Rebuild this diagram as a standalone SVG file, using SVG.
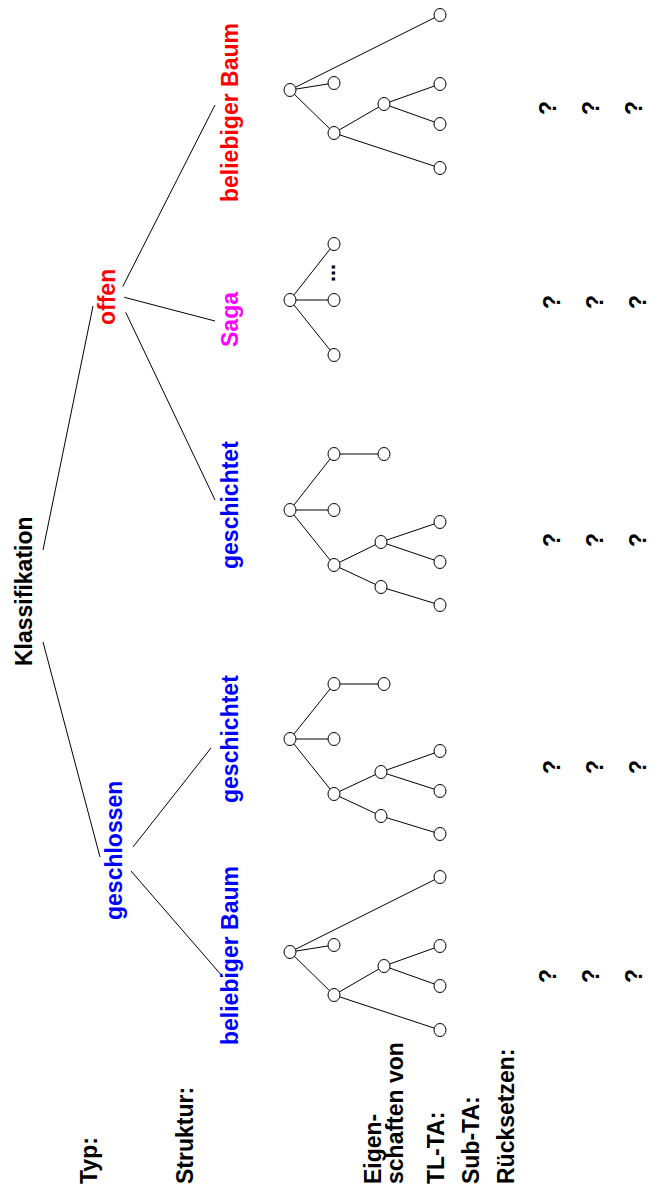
<svg xmlns="http://www.w3.org/2000/svg" width="661" height="1190" viewBox="0 0 661 1190">
  <style>
    text { font-family: "Liberation Sans", Arial, Helvetica, sans-serif; font-weight: bold; font-size: 23px; }
    .blk { fill: #000000; }
    .blue { fill: #0000ff; }
    .red { fill: #ff0000; }
    .mag { fill: #ff00ff; }
    .q { text-anchor: middle; }
    .edge { stroke: #000000; stroke-width: 1; fill: none; }
    .node { stroke: #000000; stroke-width: 1; fill: #ffffff; }
  </style>

  <!-- classification hierarchy: connectors -->
  <g id="connectors" class="edge">
    <line x1="43" y1="550" x2="93" y2="306"/>
    <line x1="43" y1="642" x2="100" y2="857"/>
    <line x1="122.7" y1="286.7" x2="215" y2="105"/>
    <line x1="124.3" y1="297.3" x2="215" y2="321"/>
    <line x1="125.7" y1="312.3" x2="215" y2="500"/>
    <line x1="133" y1="847" x2="211" y2="748"/>
    <line x1="131" y1="871" x2="223" y2="977"/>
  </g>

  <!-- hierarchy labels (vertical text) -->
  <g id="klassifikation"><text class="blk" transform="translate(32,666) rotate(-90)">Klassifikation</text></g>
  <g id="geschlossen"><text class="blue" transform="translate(122,920) rotate(-90)">geschlossen</text></g>
  <g id="offen"><text class="red" transform="translate(115,325) rotate(-90)">offen</text></g>
  <g id="beliebig-geschlossen"><text class="blue" transform="translate(238,1045) rotate(-90)">beliebiger Baum</text></g>
  <g id="geschichtet-geschlossen"><text class="blue" transform="translate(238,803) rotate(-90)">geschichtet</text></g>
  <g id="geschichtet-offen"><text class="blue" transform="translate(238,569) rotate(-90)">geschichtet</text></g>
  <g id="saga"><text class="mag" transform="translate(238,347) rotate(-90)">Saga</text></g>
  <g id="beliebig-offen"><text class="red" transform="translate(238,202) rotate(-90)">beliebiger Baum</text></g>

  <!-- row headings -->
  <g id="row-labels" class="blk">
    <text transform="translate(97,1184) rotate(-90)">Typ:</text>
    <text transform="translate(193,1184) rotate(-90)">Struktur:</text>
    <text transform="translate(381,1184) rotate(-90)">Eigen-</text>
    <text transform="translate(403,1184) rotate(-90)">schaften von</text>
    <text transform="translate(444,1184) rotate(-90)">TL-TA:</text>
    <text transform="translate(479,1184) rotate(-90)">Sub-TA:</text>
    <text transform="translate(514,1184) rotate(-90)">Rücksetzen:</text>
  </g>

  <!-- structure trees -->
  <g id="tree-beliebig-geschlossen">
    <g class="edge">
      <line x1="290" y1="952" x2="440" y2="877"/>
      <line x1="290" y1="952" x2="334" y2="945"/>
      <line x1="290" y1="952" x2="334" y2="995"/>
      <line x1="334" y1="995" x2="384" y2="966"/>
      <line x1="384" y1="966" x2="440" y2="946"/>
      <line x1="384" y1="966" x2="440" y2="986"/>
      <line x1="334" y1="995" x2="440" y2="1030"/>
    </g>
    <g class="node">
      <ellipse cx="290" cy="952" rx="6" ry="6.5"/>
      <ellipse cx="334" cy="945" rx="6" ry="6.5"/>
      <ellipse cx="440" cy="877" rx="6" ry="6.5"/>
      <ellipse cx="334" cy="995" rx="6" ry="6.5"/>
      <ellipse cx="384" cy="966" rx="6" ry="6.5"/>
      <ellipse cx="440" cy="946" rx="6" ry="6.5"/>
      <ellipse cx="440" cy="986" rx="6" ry="6.5"/>
      <ellipse cx="440" cy="1030" rx="6" ry="6.5"/>
    </g>
  </g>

  <g id="tree-geschichtet-geschlossen">
    <g class="edge">
      <line x1="290" y1="739" x2="334" y2="684"/>
      <line x1="334" y1="684" x2="384" y2="684"/>
      <line x1="290" y1="739" x2="334" y2="739"/>
      <line x1="290" y1="739" x2="334" y2="794"/>
      <line x1="334" y1="794" x2="381" y2="772"/>
      <line x1="381" y1="772" x2="440" y2="751"/>
      <line x1="381" y1="772" x2="440" y2="791"/>
      <line x1="334" y1="794" x2="381" y2="816"/>
      <line x1="381" y1="816" x2="440" y2="834"/>
    </g>
    <g class="node">
      <ellipse cx="290" cy="739" rx="6" ry="6.5"/>
      <ellipse cx="334" cy="684" rx="6" ry="6.5"/>
      <ellipse cx="384" cy="684" rx="6" ry="6.5"/>
      <ellipse cx="334" cy="739" rx="6" ry="6.5"/>
      <ellipse cx="334" cy="794" rx="6" ry="6.5"/>
      <ellipse cx="381" cy="772" rx="6" ry="6.5"/>
      <ellipse cx="440" cy="751" rx="6" ry="6.5"/>
      <ellipse cx="440" cy="791" rx="6" ry="6.5"/>
      <ellipse cx="381" cy="816" rx="6" ry="6.5"/>
      <ellipse cx="440" cy="834" rx="6" ry="6.5"/>
    </g>
  </g>

  <g id="tree-geschichtet-offen">
    <g class="edge">
      <line x1="290" y1="510" x2="334" y2="454"/>
      <line x1="334" y1="454" x2="384" y2="454"/>
      <line x1="290" y1="510" x2="334" y2="510"/>
      <line x1="290" y1="510" x2="334" y2="565"/>
      <line x1="334" y1="565" x2="381" y2="542"/>
      <line x1="381" y1="542" x2="440" y2="522"/>
      <line x1="381" y1="542" x2="440" y2="562"/>
      <line x1="334" y1="565" x2="381" y2="587"/>
      <line x1="381" y1="587" x2="440" y2="605"/>
    </g>
    <g class="node">
      <ellipse cx="290" cy="510" rx="6" ry="6.5"/>
      <ellipse cx="334" cy="454" rx="6" ry="6.5"/>
      <ellipse cx="384" cy="454" rx="6" ry="6.5"/>
      <ellipse cx="334" cy="510" rx="6" ry="6.5"/>
      <ellipse cx="334" cy="565" rx="6" ry="6.5"/>
      <ellipse cx="381" cy="542" rx="6" ry="6.5"/>
      <ellipse cx="440" cy="522" rx="6" ry="6.5"/>
      <ellipse cx="440" cy="562" rx="6" ry="6.5"/>
      <ellipse cx="381" cy="587" rx="6" ry="6.5"/>
      <ellipse cx="440" cy="605" rx="6" ry="6.5"/>
    </g>
  </g>

  <g id="tree-saga">
    <g class="edge">
      <line x1="290" y1="300" x2="334" y2="244"/>
      <line x1="290" y1="300" x2="334" y2="300"/>
      <line x1="290" y1="300" x2="334" y2="355"/>
    </g>
    <g class="node">
      <ellipse cx="290" cy="300" rx="6" ry="6.5"/>
      <ellipse cx="334" cy="244" rx="6" ry="6.5"/>
      <ellipse cx="334" cy="300" rx="6" ry="6.5"/>
      <ellipse cx="334" cy="355" rx="6" ry="6.5"/>
    </g>
    <text class="blk q" style="font-size:21.6px" transform="translate(334.5,273) rotate(-90)">...</text>
  </g>

  <g id="tree-beliebig-offen">
    <g class="edge">
      <line x1="290" y1="90" x2="440" y2="15"/>
      <line x1="290" y1="90" x2="334" y2="83"/>
      <line x1="290" y1="90" x2="334" y2="133"/>
      <line x1="334" y1="133" x2="384" y2="104"/>
      <line x1="384" y1="104" x2="440" y2="84"/>
      <line x1="384" y1="104" x2="440" y2="124"/>
      <line x1="334" y1="133" x2="440" y2="168"/>
    </g>
    <g class="node">
      <ellipse cx="290" cy="90" rx="6" ry="6.5"/>
      <ellipse cx="334" cy="83" rx="6" ry="6.5"/>
      <ellipse cx="440" cy="15" rx="6" ry="6.5"/>
      <ellipse cx="334" cy="133" rx="6" ry="6.5"/>
      <ellipse cx="384" cy="104" rx="6" ry="6.5"/>
      <ellipse cx="440" cy="84" rx="6" ry="6.5"/>
      <ellipse cx="440" cy="124" rx="6" ry="6.5"/>
      <ellipse cx="440" cy="168" rx="6" ry="6.5"/>
    </g>
  </g>

  <!-- open questions per structure -->
  <g id="properties" class="blk q">
    <text transform="translate(556,976) rotate(-90)">?</text>
    <text transform="translate(599,976) rotate(-90)">?</text>
    <text transform="translate(642,976) rotate(-90)">?</text>
    <text transform="translate(560,767) rotate(-90)">?</text>
    <text transform="translate(603,767) rotate(-90)">?</text>
    <text transform="translate(646,767) rotate(-90)">?</text>
    <text transform="translate(560,540) rotate(-90)">?</text>
    <text transform="translate(603,540) rotate(-90)">?</text>
    <text transform="translate(646,540) rotate(-90)">?</text>
    <text transform="translate(560,302) rotate(-90)">?</text>
    <text transform="translate(603,302) rotate(-90)">?</text>
    <text transform="translate(646,302) rotate(-90)">?</text>
    <text transform="translate(556,108) rotate(-90)">?</text>
    <text transform="translate(599,108) rotate(-90)">?</text>
    <text transform="translate(642,108) rotate(-90)">?</text>
  </g>
</svg>
